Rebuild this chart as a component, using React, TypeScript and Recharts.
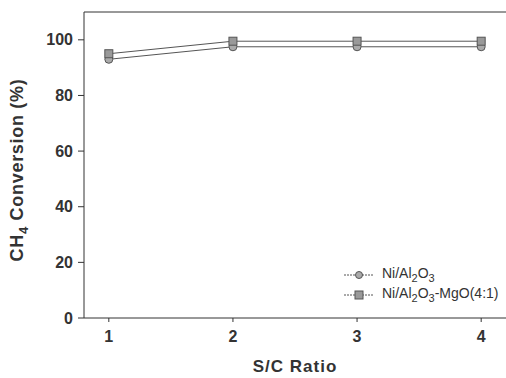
import React from 'react';
import { LineChart, Line, XAxis, YAxis, ReferenceLine } from 'recharts';

const ratios = [1, 2, 3, 4];
const niAl2O3 = [93, 97.5, 97.5, 97.5];
const niAl2O3MgO = [95, 99.5, 99.5, 99.5];
const yTicks = [0, 20, 40, 60, 80, 100];

const data = ratios.map((r, i) => ({ ratio: r, a: niAl2O3[i], b: niAl2O3MgO[i] }));

const font = '"Liberation Sans", Arial, sans-serif';
const ink = '#333';

const Circle = (props: any) => {
  const { cx, cy } = props;
  return <circle cx={cx} cy={cy} r={4} fill="#aaa" stroke="#555" strokeWidth={1} />;
};

const Square = (props: any) => {
  const { cx, cy } = props;
  return <rect x={cx - 4} y={cy - 4} width={8} height={8} fill="#999" stroke="#555" strokeWidth={1} />;
};

// rotated y title with a real subscript
const YTitle = () => (
  <text x={23} y={170} transform="rotate(-90 23 170)" textAnchor="middle" fill={ink}
    fontFamily={font} fontSize={18} fontWeight="bold" letterSpacing={0.7}>
    CH<tspan fontSize={13} dy={5}>4</tspan><tspan dy={-5}> Conversion (%)</tspan>
  </text>
);

const LegendBox = () => {
  const row = (marker: React.ReactNode, label: React.ReactNode) => (
    <div style={{ display: 'flex', alignItems: 'center', height: 20 }}>
      <svg width={34} height={12}>
        <line x1={0} y1={6} x2={30} y2={6} stroke="#555" strokeDasharray="2 1" />
        {marker}
      </svg>
      <span style={{ marginLeft: 4 }}>{label}</span>
    </div>
  );
  return (
    <div style={{ position: 'absolute', left: 344, top: 265, fontFamily: font, fontSize: 14, color: ink, lineHeight: '14px' }}>
      {row(<circle cx={15} cy={6} r={3.5} fill="#aaa" stroke="#555" />,
        <>Ni/Al<sub style={{ fontSize: 11 }}>2</sub>O<sub style={{ fontSize: 11 }}>3</sub></>)}
      {row(<rect x={11} y={2} width={8} height={8} fill="#999" stroke="#555" />,
        <>Ni/Al<sub style={{ fontSize: 11 }}>2</sub>O<sub style={{ fontSize: 11 }}>3</sub>-MgO(4:1)</>)}
    </div>
  );
};

export default function App() {
  return (
    <div style={{ position: 'absolute', left: 0, top: 0, width: 506, height: 378, background: '#fff' }}>
      <LineChart width={506} height={378} data={data} margin={{ top: 12, right: 0, bottom: 0, left: 0 }}>
        <XAxis
          dataKey="ratio"
          type="number"
          domain={[0.8, 4.2]}
          ticks={ratios}
          height={60}
          tickSize={4}
          tickMargin={9}
          stroke={ink}
          tick={{ fill: ink, fontFamily: font, fontSize: 16, fontWeight: 'bold' }}
          label={{ value: 'S/C Ratio', position: 'insideBottom', offset: 6, fill: ink, fontFamily: font, fontSize: 17, fontWeight: 'bold', letterSpacing: 1 }}
        />
        <YAxis
          domain={[0, 110]}
          ticks={yTicks}
          width={84}
          tickSize={6}
          tickMargin={5}
          stroke={ink}
          tick={{ fill: ink, fontFamily: font, fontSize: 16, fontWeight: 'bold' }}
          label={{ content: () => <YTitle /> }}
        />
        <ReferenceLine y={110} stroke={ink} />
        <Line dataKey="a" name="Ni/Al2O3" stroke="#555" strokeWidth={1} dot={<Circle />} isAnimationActive={false} />
        <Line dataKey="b" name="Ni/Al2O3-MgO(4:1)" stroke="#555" strokeWidth={1} dot={<Square />} isAnimationActive={false} />
      </LineChart>
      <LegendBox />
    </div>
  );
}
